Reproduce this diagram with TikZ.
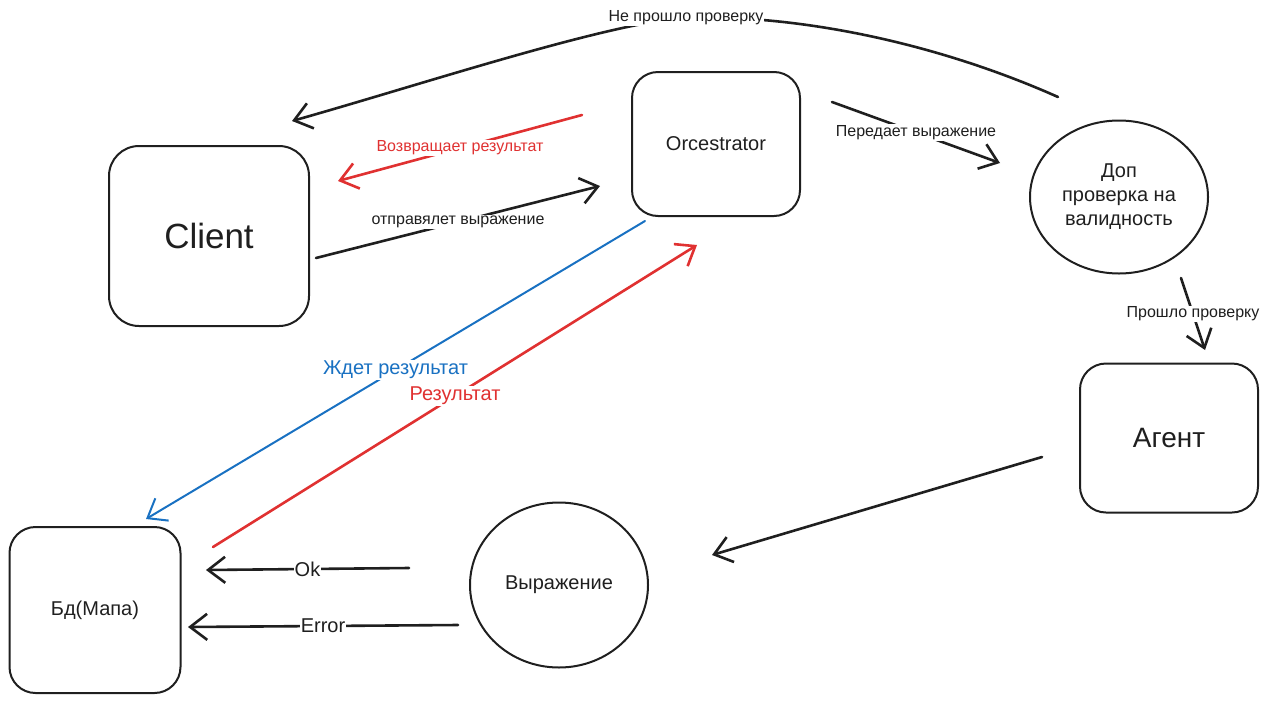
\documentclass[tikz,border=0pt]{standalone}
\usepackage{fontspec}
\setmainfont{Liberation Sans}
\usetikzlibrary{shapes.geometric,arrows.meta}

\begin{document}
\begin{tikzpicture}
		[x=1pt,y=-1pt,line cap=round,
		%Styles
		box/.style={draw=ink,line width=2pt,rounded corners=26pt,align=center,text=ink},
		blob/.style={draw=ink,line width=2pt,ellipse,align=center,inner sep=0pt,text=ink},
		flow/.style={draw=ink,line width=2.6pt,-{Straight Barb[length=17pt,width=26pt]}},
		tag/.style={fill=white,inner sep=1pt,text=ink,font=\fontsize{16}{18}\selectfont},
		big tag/.style={fill=white,inner sep=1pt,font=\fontsize{20}{22}\selectfont}
		]
		
		%Colors
		\colorlet{ink}{black!88}
		\definecolor{resred}{HTML}{E03131}	%result arrows
		\definecolor{waitblue}{HTML}{1971C2}	%waiting arrow
		
		\useasboundingbox (0,0) rectangle (1269,702);
		
		%The graphic
		\node[box,minimum width=200pt,minimum height=180pt,rounded corners=30pt,font=\fontsize{35}{40}\selectfont] (client) at (209,236) {Client};
		\node[box,minimum width=168pt,minimum height=144pt,font=\fontsize{20}{24}\selectfont] (orc) at (716,144) {Orcestrator};
		\node[blob,minimum width=178pt,minimum height=153pt,font=\fontsize{20}{24}\selectfont] (check) at (1119,197) {Доп\\проверка на\\валидность};
		\node[box,minimum width=178pt,minimum height=149pt,font=\fontsize{28}{32}\selectfont] (agent) at (1169,438) {Агент};
		\node[box,minimum width=171pt,minimum height=166pt,font=\fontsize{20}{24}\selectfont] (db) at (95,610) {Бд(Мапа)};
		\node[blob,minimum width=178pt,minimum height=165pt,font=\fontsize{20}{24}\selectfont] (expr) at (559,585) {Выражение};
		
		%Arrow ends
		\coordinate (sendOut) at (316,258);
		\coordinate (sendIn) at (600,186);
		\coordinate (backOut) at (582,115);
		\coordinate (backIn) at (338,181);
		\coordinate (passOut) at (832,102);
		\coordinate (passIn) at (1000,163);
		\coordinate (okOut) at (1181,278);
		\coordinate (okIn) at (1205,350);
		\coordinate (failOut) at (1058,97);
		\coordinate (failIn) at (292,121);
		\coordinate (agentOut) at (1042,457);
		\coordinate (agentIn) at (712,555);
		\coordinate (exprOk) at (409,568);
		\coordinate (dbOk) at (206,570);
		\coordinate (exprErr) at (458,625);
		\coordinate (dbErr) at (188,627);
		\coordinate (waitOut) at (645,221);
		\coordinate (waitIn) at (146,519);
		\coordinate (resOut) at (213,547);
		\coordinate (resIn) at (697,245);
		
		\path[every edge/.style={flow}]
			(sendOut) edge node[tag] {отправялет выражение} (sendIn)
			(passOut) edge node[tag] {Передает выражение} (passIn)
			(okOut) edge node[tag] {Прошло проверку} (okIn)
			(agentOut) edge (agentIn)
			(exprOk) edge node[tag,font=\fontsize{20}{22}\selectfont] {Ok} (dbOk)
			(exprErr) edge node[tag,font=\fontsize{20}{22}\selectfont] {Error} (dbErr);
		\path[every edge/.style={flow,draw=resred}]
			(backOut) edge node[tag,text=resred] {Возвращает результат} (backIn)
			(resOut) edge node[big tag,text=resred] {Результат} (resIn);
		\path[every edge/.style={flow,draw=waitblue,line width=2pt}]
			(waitOut) edge node[big tag,text=waitblue] {Ждет результат} (waitIn);
		
		\draw[flow] (failOut) .. controls (930,40) and (790,14) .. (686,18)
			node[tag] {Не прошло проверку}
			.. controls (610,22) and (420,85) .. (failIn);
	\end{tikzpicture}
\end{document}
